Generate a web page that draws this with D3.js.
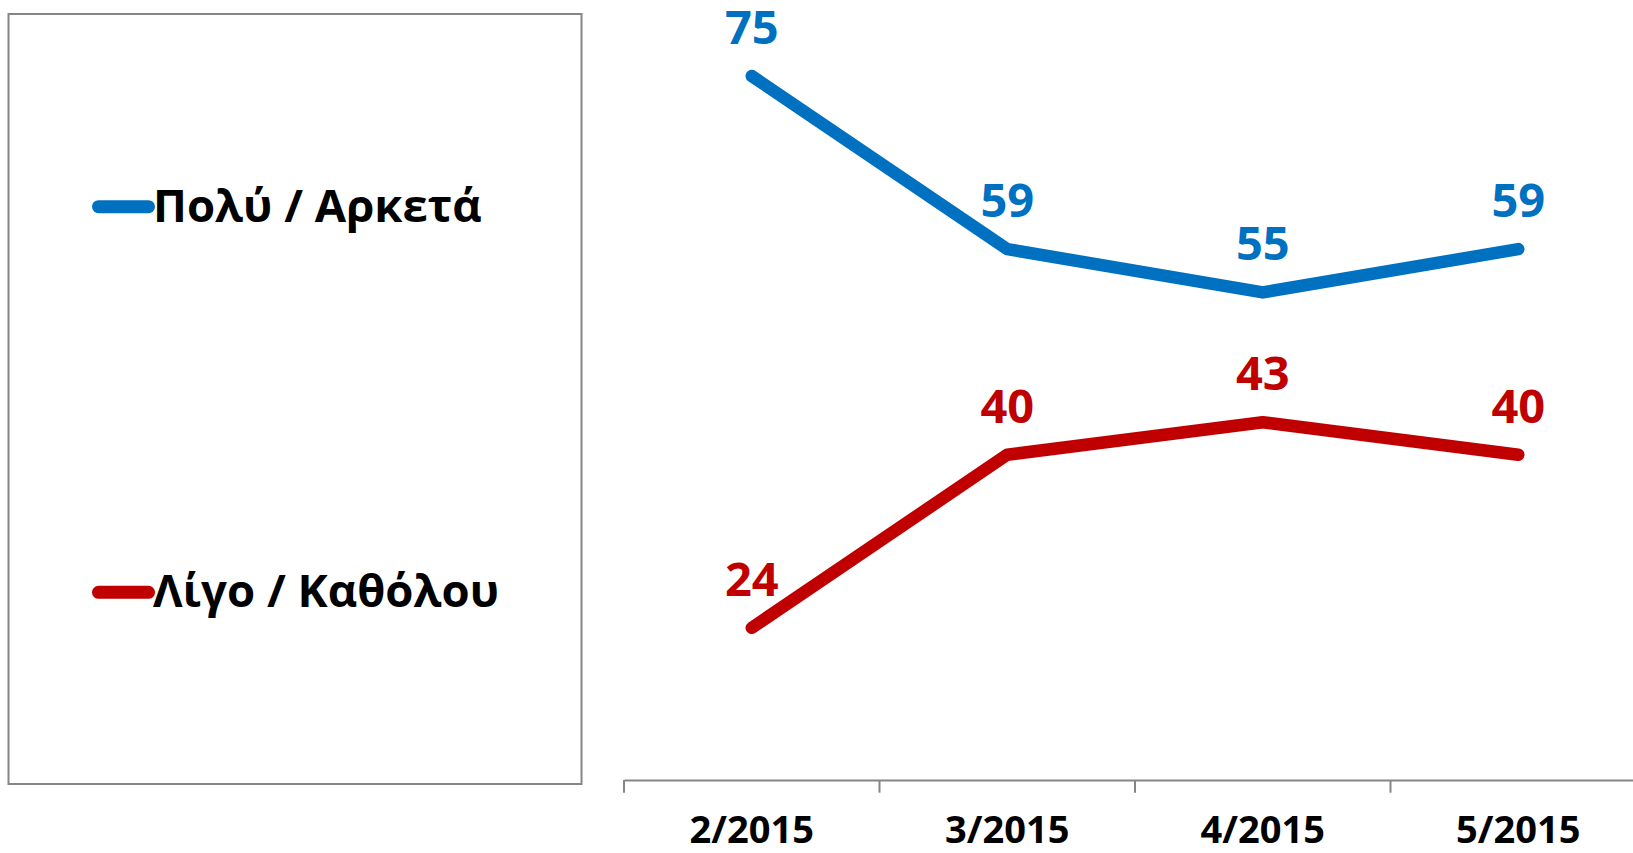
<!DOCTYPE html>
<html>
<head>
<meta charset="utf-8">
<script src="https://cdn.jsdelivr.net/npm/d3@7"></script>
<style>
  html, body { margin: 0; padding: 0; background: #fff; }
  svg { display: block; }
  text { font-family: "Open Sans", "Noto Sans", sans-serif; font-weight: bold; }
</style>
</head>
<body>
<svg id="chart" width="1633" height="853"></svg>
<script>
// ---- data ----
const categories = ["2/2015", "3/2015", "4/2015", "5/2015"];
const seriesNames = ["Πολύ / Αρκετά", "Λίγο / Καθόλου"];
const seriesColors = ["#0070C0", "#C00000"];
const muchValues = [75, 59, 55, 59];
const littleValues = [24, 40, 43, 40];

const series = [
  { name: seriesNames[0], color: seriesColors[0], values: muchValues },
  { name: seriesNames[1], color: seriesColors[1], values: littleValues }
];

const svg = d3.select("#chart");

// ---- scales ----
const x = d3.scaleBand().domain(categories).range([624, 1646]).padding(0);
const y = d3.scaleLinear().domain([10, 80]).range([779.3, 21.9]);
const cx = d => x(d) + x.bandwidth() / 2;

// ---- legend box ----
svg.append("rect")
  .attr("x", 8.5).attr("y", 14)
  .attr("width", 573).attr("height", 770)
  .attr("fill", "none")
  .attr("stroke", "#868686")
  .attr("stroke-width", 2);

const legendY = [206.7, 592.3];
const legend = svg.append("g").selectAll("g")
  .data(series).join("g")
  .attr("transform", (d, i) => `translate(0,${legendY[i]})`);
legend.append("line")
  .attr("x1", 98.5).attr("x2", 148.5)
  .attr("y1", 0).attr("y2", 0)
  .attr("stroke", d => d.color)
  .attr("stroke-width", 13)
  .attr("stroke-linecap", "round");
legend.append("text")
  .attr("x", 153).attr("y", 15)
  .attr("font-size", 45.5)
  .attr("fill", "#000")
  .text(d => d.name);

// ---- x axis ----
const axisG = svg.append("g")
  .attr("transform", "translate(0,780)")
  .call(d3.axisBottom(x).tickSize(0).tickSizeOuter(0).tickPadding(0));
axisG.select(".domain").attr("stroke", "#868686").attr("stroke-width", 2);
axisG.selectAll(".tick text")
  .attr("font-size", 38)
  .attr("fill", "#000")
  .attr("dy", null)
  .attr("y", 63)
  .style("font-family", "'Open Sans', sans-serif")
  .style("font-weight", "bold");

// category boundary ticks
svg.append("g").selectAll("line")
  .data(categories).join("line")
  .attr("x1", d => x(d)).attr("x2", d => x(d))
  .attr("y1", 780).attr("y2", 792.7)
  .attr("stroke", "#868686")
  .attr("stroke-width", 2);

// ---- lines ----
const line = d3.line()
  .x((v, i) => cx(categories[i]))
  .y(v => y(v));

svg.append("g").selectAll("path")
  .data(series).join("path")
  .attr("d", d => line(d.values))
  .attr("fill", "none")
  .attr("stroke", d => d.color)
  .attr("stroke-width", 12.5)
  .attr("stroke-linecap", "round")
  .attr("stroke-linejoin", "round");

// ---- data labels ----
series.forEach(s => {
  svg.append("g").selectAll("text")
    .data(s.values).join("text")
    .attr("x", (v, i) => cx(categories[i]))
    .attr("y", v => y(v) - 32)
    .attr("text-anchor", "middle")
    .attr("font-size", 47)
    .attr("fill", s.color)
    .text(v => v);
});
</script>
</body>
</html>
